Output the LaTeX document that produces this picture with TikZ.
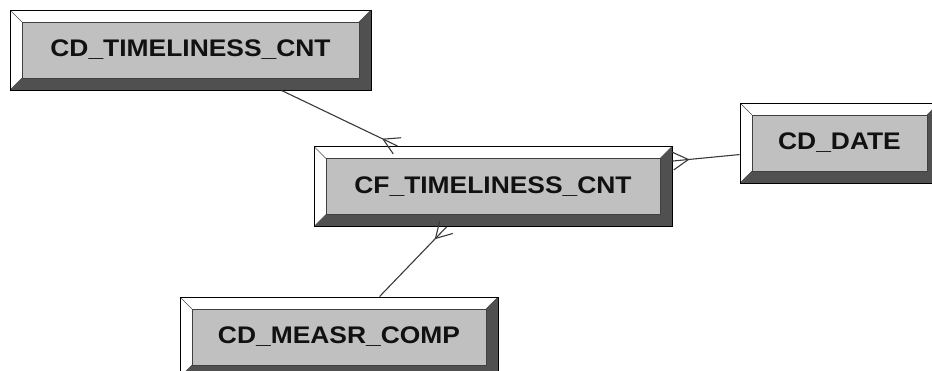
\documentclass[tikz,border=0pt]{standalone}
\usepackage{fontspec}
\newfontfamily\boxfont[FakeStretch=1.1]{Liberation Sans}
\usetikzlibrary{calc}
\definecolor{facegray}{HTML}{C0C0C0}
\definecolor{bevdark}{HTML}{505050}
\definecolor{bevlight}{HTML}{FFFFFF}
\definecolor{conncol}{HTML}{3A3A3A}
\definecolor{txtcol}{HTML}{111111}
\tikzset{
  bevbox/.style={draw=black, line width=0.9pt, fill=facegray, inner sep=0pt,
    minimum height=80pt, text=txtcol,
    font={\boxfont\bfseries\fontsize{24}{27}\selectfont},
    path picture={
      \def\bv{12pt}
      \fill[bevlight] (path picture bounding box.north west) -- (path picture bounding box.north east)
        -- ([shift={(-\bv,-\bv)}]path picture bounding box.north east)
        -- ([shift={(\bv,-\bv)}]path picture bounding box.north west) -- cycle;
      \fill[bevlight] (path picture bounding box.north west) -- (path picture bounding box.south west)
        -- ([shift={(\bv,\bv)}]path picture bounding box.south west)
        -- ([shift={(\bv,-\bv)}]path picture bounding box.north west) -- cycle;
      \fill[bevdark] (path picture bounding box.north east) -- (path picture bounding box.south east)
        -- ([shift={(-\bv,\bv)}]path picture bounding box.south east)
        -- ([shift={(-\bv,-\bv)}]path picture bounding box.north east) -- cycle;
      \fill[bevdark] (path picture bounding box.south west) -- (path picture bounding box.south east)
        -- ([shift={(-\bv,\bv)}]path picture bounding box.south east)
        -- ([shift={(\bv,\bv)}]path picture bounding box.south west) -- cycle;
      \draw[line width=0.7pt, draw=black!75]
        ([shift={(\bv,-\bv)}]path picture bounding box.north west) rectangle
        ([shift={(-\bv,\bv)}]path picture bounding box.south east);
      \draw[line width=0.6pt, draw=black!70]
        (path picture bounding box.north west) -- ([shift={(\bv,-\bv)}]path picture bounding box.north west)
        (path picture bounding box.north east) -- ([shift={(-\bv,-\bv)}]path picture bounding box.north east)
        (path picture bounding box.south west) -- ([shift={(\bv,\bv)}]path picture bounding box.south west)
        (path picture bounding box.south east) -- ([shift={(-\bv,\bv)}]path picture bounding box.south east);
    }},
  conn/.style={draw=conncol, line width=1.1pt},
}
\newcommand\crowfoot[2]{% #1 = far end, #2 = end at the entity
  \draw[conn] (#1) -- (#2);
  \coordinate (cfc) at ($(#2)!16pt!(#1)$);
  \draw[conn] (cfc) -- ($(cfc)!18pt!30:(#2)$) (cfc) -- ($(cfc)!18pt!-30:(#2)$);
}
\begin{document}
\begin{tikzpicture}[x=1pt,y=-1pt]
\useasboundingbox (0,0) rectangle (932,370);
\clip (0,0) rectangle (932,370);
\fill[white] (0,0) rectangle (932,370);

\node[bevbox, minimum width=361pt] (b1) at (190.5,50) {CD\_TIMELINESS\_CNT};
\node[bevbox, minimum width=358pt] (b2) at (493,186.5) {CF\_TIMELINESS\_CNT};
\node[bevbox, minimum width=199pt] (b3) at (839.5,143) {CD\_DATE};
\node[bevbox, minimum width=318pt] (b4) at (339,337) {CD\_MEASR\_COMP};

\coordinate (c1s) at ([xshift=272pt]b1.south west);
\coordinate (c1e) at ([xshift=84pt]b2.north west);
\coordinate (c2s) at ([yshift=-52pt]b3.north west);
\coordinate (c2e) at ([yshift=-15pt]b2.north east);
\coordinate (c3s) at ([xshift=200pt]b4.north west);
\coordinate (c3e) at ([xshift=133pt]b2.south west);

\crowfoot{c1s}{c1e}
\crowfoot{c2s}{c2e}
\crowfoot{c3s}{c3e}
\end{tikzpicture}
\end{document}
